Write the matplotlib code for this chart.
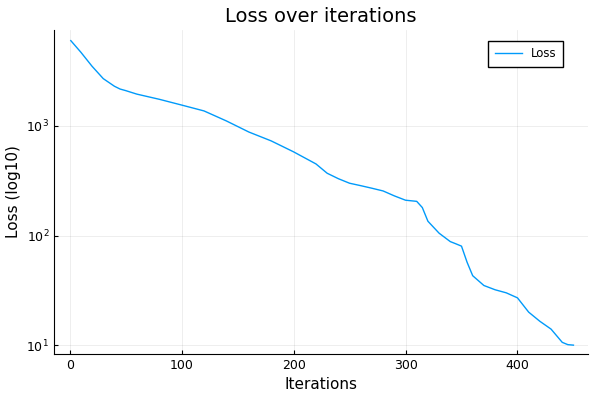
import matplotlib
matplotlib.use("Agg")
import matplotlib.pyplot as plt
from matplotlib.ticker import LogLocator, NullLocator

# values
iters = [1, 10, 20, 30, 40, 45, 50, 60, 80, 100, 120, 140, 160, 180, 200, 220,
         230, 240, 250, 260, 270, 280, 290, 300, 310, 315, 320, 330, 340, 345,
         350, 355, 360, 370, 380, 390, 400, 410, 420, 430, 440, 445, 450]
loss = [6000, 4700, 3500, 2700, 2300, 2170, 2100, 1950, 1750, 1550, 1370, 1110,
        880, 730, 580, 450, 370, 330, 300, 285, 270, 255, 230, 210, 205, 180,
        135, 105, 88, 84, 80, 57, 43, 35, 32, 30, 27, 20, 16.5, 14, 10.6, 10.1, 10]

fig, ax = plt.subplots(figsize=(6, 4), dpi=100)
ax.plot(iters, loss, color="#009AFA", lw=1, label="Loss")
ax.set_yscale("log")
ax.set_xlim(-14, 463)
ax.set_ylim(8.3, 7500)
ax.yaxis.set_major_locator(LogLocator(base=10))
ax.yaxis.set_minor_locator(NullLocator())
ax.set_xticks([0, 100, 200, 300, 400])
ax.grid(True, color="#000000", alpha=0.08, lw=0.6)
for s in ["top", "right"]:
    ax.spines[s].set_visible(False)
ax.tick_params(labelsize=9, direction="in", length=3)
ax.set_title("Loss over iterations", fontsize=14)
ax.set_xlabel("Iterations", fontsize=11)
ax.set_ylabel("Loss (log10)", fontsize=11)
ax.legend(loc="upper right", bbox_to_anchor=(0.965, 0.985), fontsize=8.5,
          fancybox=False, edgecolor="black", borderpad=0.55, handlelength=2.3,
          framealpha=1)
fig.subplots_adjust(left=0.09, right=0.98, top=0.925, bottom=0.115)
fig.savefig("out.png")
